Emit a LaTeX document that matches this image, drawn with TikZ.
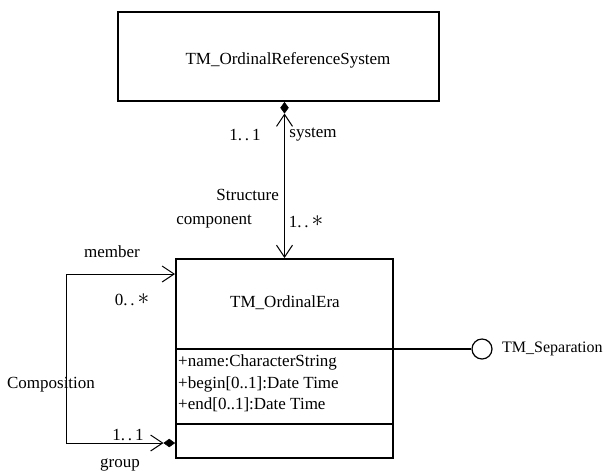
\documentclass[tikz,border=0pt]{standalone}
\usepackage{fontspec}
\setmainfont{Liberation Serif}
\usetikzlibrary{arrows.meta,shapes.geometric}
\tikzset{openv/.tip={Straight Barb[length=12pt,width=16pt,line width=1pt]}}
\newcommand{\manystar}{\raisebox{0.1ex}{\scalebox{1.35}{$\ast$}}}
\begin{document}
\begin{tikzpicture}[x=1pt,y=-1pt,
  every node/.style={font=\fontsize{17}{20}\selectfont, inner sep=0pt},
  umlbox/.style={draw, line width=2pt, rectangle, inner sep=0pt},
  conn/.style={line width=1pt},
  vdia/.style={draw, fill, diamond, shape aspect=0.7, minimum width=8pt, minimum height=11pt, inner sep=0pt, line width=0.5pt},
  hdia/.style={draw, fill, diamond, shape aspect=1.4, minimum width=11pt, minimum height=8pt, inner sep=0pt, line width=0.5pt},
  divider/.style={line width=2pt}]
\useasboundingbox (0,0) rectangle (609,475);

% classes
\node[umlbox, minimum width=321pt, minimum height=89pt] (sys) at (278.5,56.5) {};
\node (systxt) at (288,60) {TM\_OrdinalReferenceSystem};

\node[umlbox, minimum width=217pt, minimum height=199pt] (era) at (284.5,358.5) {};
\node (eratxt) at (285,303) {TM\_OrdinalEra};
\draw[divider] (era.west |- 0,349) -- (era.east |- 0,349);
\draw[divider] (era.west |- 0,424) -- (era.east |- 0,424);
\node[anchor=west] (a1) at (178,362) {+name:CharacterString};
\node[anchor=west] (a2) at (178,384) {+begin[0..1]:Date Time};
\node[anchor=west] (a3) at (178,405) {+end[0..1]:Date Time};

% Structure association
\node[vdia, anchor=north] (sd) at (sys.south -| era.north) {};
\draw[conn, openv-openv] (sd.south) -- (era.north);
\node (m1) at (245,135) {1.\,.\,1};
\node (rsys) at (313,135) {system};
\node[anchor=east] (assoc) at (279,195) {Structure};
\node[anchor=east] (rcomp) at (252,222) {component};
\node (m2) at (306,222) {1.\,.\,\manystar};

% Composition self-association
\node[hdia, anchor=east] (gd) at (era.west |- 0,443) {};
\coordinate (c1) at (66,443);
\coordinate (c2) at (66,274);
\draw[conn, openv-openv] (gd.west) -- (c1) -- (c2) -- (era.west |- c2);
\node (rmem) at (112,252) {member};
\node (m3) at (132,300) {0.\,.\,\manystar};
\node (comp) at (51,385) {Composition};
\node (m4) at (128,435) {1.\,.\,1};
\node (rgrp) at (120,465) {group};

% interface
\node[draw, circle, minimum size=20pt, line width=1.2pt] (sep) at (482,349) {};
\draw[line width=1.4pt] (era.east |- sep) -- (sep.west);
\node[anchor=west, font=\fontsize{16}{19}\selectfont] (septxt) at (502,349) {TM\_Separation};
\end{tikzpicture}
\end{document}
